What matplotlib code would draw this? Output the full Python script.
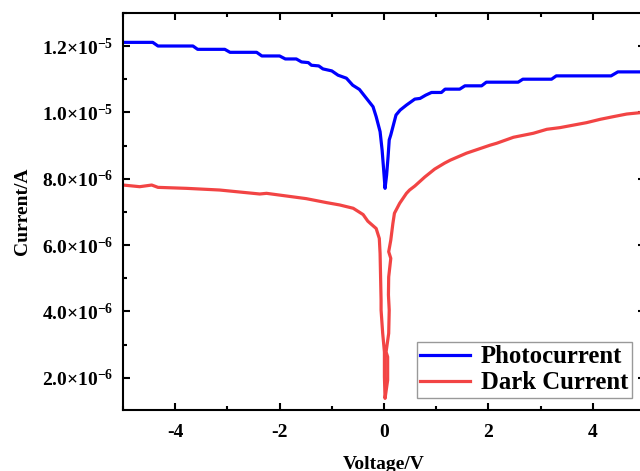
import matplotlib
matplotlib.use("Agg")
import matplotlib.pyplot as plt
from matplotlib.ticker import MultipleLocator, FuncFormatter
import numpy as np

plt.rcParams['font.family'] = ['Liberation Serif', 'DejaVu Serif']
plt.rcParams['font.weight'] = 'bold'
plt.rcParams['mathtext.fontset'] = 'custom'
plt.rcParams['mathtext.rm'] = 'Liberation Serif:bold'
plt.rcParams['mathtext.bf'] = 'Liberation Serif:bold'
plt.rcParams['mathtext.it'] = 'Liberation Serif:bold:italic'
plt.rcParams['axes.unicode_minus'] = False

# Photocurrent (A, in units of 1e-5)
photo_v = [-5.00, -4.43, -4.33, -3.66, -3.57, -3.05, -2.95, -2.44, -2.34, -2.00,
           -1.89, -1.68, -1.58, -1.45, -1.39, -1.25, -1.17, -1.00, -0.88, -0.72,
           -0.60, -0.47, -0.31, -0.21, -0.15, -0.075, -0.036, -0.006, 0.02, 0.05,
           0.078, 0.10, 0.13, 0.18, 0.23, 0.31, 0.43, 0.59, 0.69, 0.80,
           0.91, 1.10, 1.17, 1.45, 1.55, 1.87, 1.96, 2.57, 2.66, 3.21,
           3.30, 4.35, 4.48, 5.00]
photo_i = [1.211, 1.211, 1.200, 1.200, 1.190, 1.190, 1.181, 1.181, 1.170, 1.170,
           1.161, 1.161, 1.152, 1.150, 1.142, 1.140, 1.131, 1.125, 1.112, 1.103,
           1.082, 1.069, 1.037, 1.017, 0.987, 0.942, 0.886, 0.826, 0.771, 0.811,
           0.866, 0.917, 0.932, 0.962, 0.992, 1.007, 1.022, 1.040, 1.042, 1.052,
           1.060, 1.060, 1.070, 1.070, 1.080, 1.080, 1.091, 1.091, 1.100, 1.100,
           1.110, 1.110, 1.122, 1.122]

# Dark current (A, in units of 1e-5)
dark_v = [-5.00, -4.87, -4.68, -4.45, -4.33, -3.78, -3.15, -2.83, -2.38, -2.25,
          -1.87, -1.49, -1.10, -0.85, -0.59, -0.40, -0.31, -0.15, -0.09, -0.075,
          -0.056, -0.056, -0.025, 0.008, 0.008, 0.02, 0.07, 0.07, 0.04, 0.09,
          0.10, 0.085, 0.09, 0.13, 0.09, 0.13, 0.17, 0.20, 0.30, 0.43,
          0.49, 0.59, 0.78, 0.97, 1.16, 1.27, 1.58, 2.03, 2.16, 2.48,
          2.86, 3.12, 3.37, 3.88, 4.14, 4.39, 4.65, 4.90, 5.00]
dark_i = [0.781, 0.779, 0.776, 0.781, 0.774, 0.771, 0.766, 0.761, 0.754, 0.756,
          0.748, 0.740, 0.728, 0.721, 0.711, 0.692, 0.672, 0.650, 0.620, 0.575,
          0.434, 0.404, 0.334, 0.278, 0.203, 0.138, 0.193, 0.263, 0.278, 0.334,
          0.404, 0.450, 0.504, 0.560, 0.580, 0.615, 0.665, 0.696, 0.726, 0.756,
          0.766, 0.778, 0.805, 0.829, 0.847, 0.856, 0.877, 0.901, 0.907, 0.925,
          0.937, 0.949, 0.954, 0.969, 0.979, 0.987, 0.995, 0.999, 1.000]

series_labels = ["Photocurrent", "Dark Current"]
y_ticks = [2e-6, 4e-6, 6e-6, 8e-6, 1e-5, 1.2e-5]
x_ticks = [-4, -2, 0, 2, 4]

fig = plt.figure(figsize=(6.4, 4.71), dpi=100)
ax = fig.add_axes([123/640, 1 - 410/471, (645 - 123)/640, (410 - 12.5)/471])

ax.plot(photo_v, np.array(photo_i) * 1e-5, color='#0000ff', lw=2.3, label=series_labels[0])
ax.plot(dark_v, np.array(dark_i) * 1e-5, color='#f24444', lw=2.3, label=series_labels[1])

ax.set_xlim(-5, 5)
ax.set_ylim(1.03e-6, 1.301e-5)
ax.set_xticks(x_ticks)
ax.set_yticks(y_ticks)
ax.xaxis.set_minor_locator(MultipleLocator(1))
ax.yaxis.set_minor_locator(MultipleLocator(1e-6))

def yfmt(v, pos):
    e = int(np.floor(np.log10(abs(v)) + 1e-9))
    m = v / 10**e
    return r"$\mathbf{%.1f{\times}10^{%d}}$" % (m, e)

ax.yaxis.set_major_formatter(FuncFormatter(yfmt))
ax.set_xticklabels([str(t) for t in x_ticks])

ax.tick_params(which='both', direction='in', top=True, right=True, width=1.5)
ax.tick_params(which='major', length=5, labelsize=14, pad=7)
ax.tick_params(which='minor', length=3)
ax.tick_params(axis='x', which='major', pad=10)
for s in ax.spines.values():
    s.set_linewidth(1.5)

ax.set_xlabel("Voltage/V", fontsize=14, fontweight='bold', labelpad=11)
ax.set_ylabel("Current/A", fontsize=14, fontweight='bold', labelpad=8)

leg = ax.legend(loc='lower right', bbox_to_anchor=(0.975, 0.030), borderaxespad=0,
                fancybox=False, edgecolor='#808080', handlelength=2.0,
                handletextpad=0.45, labelspacing=0.12, borderpad=0.15,
                prop={'weight': 'bold', 'size': 17.8})
leg.get_frame().set_linewidth(1.0)

fig.savefig("out.png", dpi=100)
